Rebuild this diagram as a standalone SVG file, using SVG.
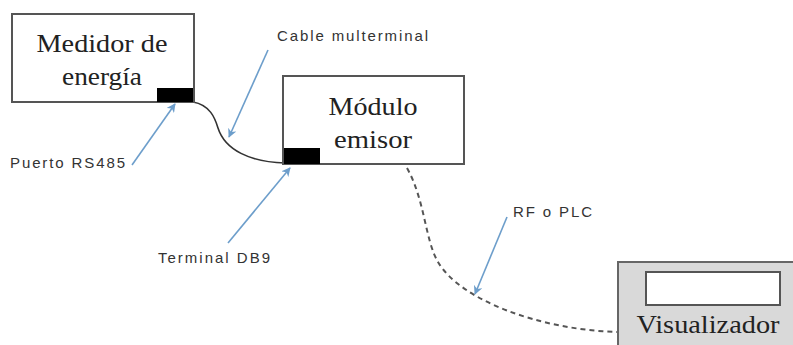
<svg xmlns="http://www.w3.org/2000/svg" width="793" height="345" viewBox="0 0 793 345">
<style>
.box{fill:#fff;stroke:#555;stroke-width:2}
.port{fill:#000}
.serif{font-family:"Liberation Serif","Times New Roman",serif;font-size:26px;fill:#222;text-anchor:middle}
.lbl{font-family:"Liberation Sans",Arial,sans-serif;font-size:15px;fill:#333}
.call{stroke:#6d9ecb;stroke-width:1.6;fill:none;marker-end:url(#ah)}
.wire{stroke:#333;stroke-width:1.6;fill:none}
.dash{stroke:#555;stroke-width:2;fill:none;stroke-dasharray:5 4}
</style>
<defs>
<marker id="ah" viewBox="0 0 10 10" refX="9" refY="5" markerWidth="9" markerHeight="9" markerUnits="userSpaceOnUse" orient="auto">
<path d="M0,0 L10,5 L0,10 L3,5 Z" fill="#6d9ecb"/>
</marker>
</defs>
<rect width="793" height="345" fill="#fff"/>
<g id="connectors">
<path class="wire" d="M193,102 C210,105 215,118 218,128 C225,150 250,162 285,163"/>
<path class="dash" d="M407,168 C425,200 425,240 438,262 C460,300 540,330 618,332"/>
<line class="call" x1="132" y1="165" x2="175" y2="104"/>
<line class="call" x1="268" y1="50" x2="229" y2="137"/>
<line class="call" x1="228" y1="243" x2="290" y2="168"/>
<line class="call" x1="507" y1="217" x2="475" y2="294"/>
</g>
<g id="medidor">
<rect class="box" x="12" y="14" width="182" height="88"/>
<rect class="port" x="157" y="88" width="36" height="14"/>
<text class="serif" x="102" y="52" textLength="131" lengthAdjust="spacingAndGlyphs">Medidor de</text>
<text class="serif" x="102" y="85" textLength="80" lengthAdjust="spacingAndGlyphs">energía</text>
</g>
<g id="modulo">
<rect class="box" x="283" y="76" width="181" height="88"/>
<rect class="port" x="284" y="148" width="36" height="16"/>
<text class="serif" x="373" y="115" textLength="89" lengthAdjust="spacingAndGlyphs">Módulo</text>
<text class="serif" x="373" y="148" textLength="78" lengthAdjust="spacingAndGlyphs">emisor</text>
</g>
<g id="visualizador">
<rect x="618" y="262" width="185" height="100" fill="#d9d9d9" stroke="#666" stroke-width="2"/>
<rect x="646" y="272" width="134" height="33" fill="#fff" stroke="#555" stroke-width="2"/>
<text class="serif" x="708" y="333" textLength="143" lengthAdjust="spacingAndGlyphs">Visualizador</text>
</g>
<g id="labels">
<text class="lbl" x="10" y="168" textLength="115" lengthAdjust="spacing">Puerto RS485</text>
<text class="lbl" x="277" y="41" textLength="151" lengthAdjust="spacing">Cable multerminal</text>
<text class="lbl" x="158" y="263" textLength="112" lengthAdjust="spacing">Terminal DB9</text>
<text class="lbl" x="513" y="217" textLength="79" lengthAdjust="spacing">RF o PLC</text>
</g>
</svg>
